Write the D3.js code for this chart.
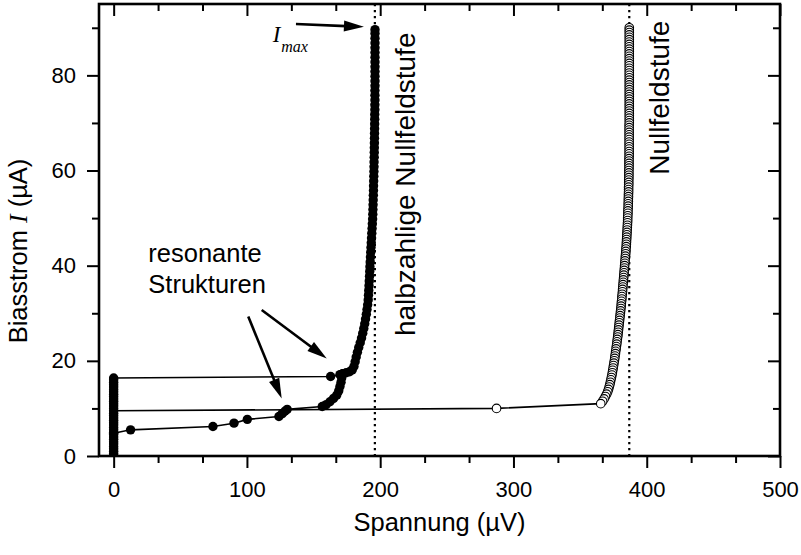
<!DOCTYPE html>
<html>
<head>
<meta charset="utf-8">
<script src="https://cdn.jsdelivr.net/npm/d3@7/dist/d3.min.js"></script>
<style>
  html, body { margin: 0; padding: 0; background: #fff; }
  svg { display: block; }
  text { font-family: "Liberation Sans", Arial, Helvetica, sans-serif; fill: #000; }
</style>
</head>
<body>
<svg id="chart" width="801" height="555"></svg>
<script>
// ---- measured I-V data: [voltage in µV, current in µA] ----

// supercurrent at V = 0, jump, then the half-integer zero-field step
const sweepUp = [
  [0,0],[0,0.5],[0,1],[0,1.5],[0,2],[0,2.5],[0,3],[0,3.5],[0,4],[0,4.5],[0,5],[0,5.5],
  [0,6],[0,6.5],[0,7],[0,7.5],[0,8],[0,8.5],[0,9],[0,9.5],[0,10],[0,10.5],[0,11],[0,11.5],
  [0,12],[0,12.5],[0,13],[0,13.5],[0,14],[0,14.5],[0,15],[0,15.5],[0,16],[0,16.4],
  [162.8,16.7],[169.8,17.1],[172.0,17.3],[174.5,17.5],[177.0,17.7],[179.0,18.1],[180.3,18.8],
  [181.2,19.8],[182.0,20.8],[182.9,21.8],[183.9,22.8],[185.0,23.8],[186.0,24.8],[186.9,25.8],
  [187.7,26.8],[188.4,27.8],[189.0,28.8],[189.6,29.8],[190.1,30.8],[190.6,31.8],[191.0,32.8],
  [191.2,33.8],[191.4,34.8],[191.6,35.8],[191.8,36.8],[192.0,37.8],[192.15,38.8],[192.3,39.8],
  [192.5,40.8],[192.7,41.8],[192.9,42.8],[193.1,43.8],[193.3,44.8],[193.5,45.8],[193.7,46.8],
  [193.9,47.8],[194.1,48.8],[194.3,49.8],[194.45,50.8],[194.55,51.8],[194.65,52.8],[194.75,53.8],
  [194.85,54.8],[194.95,55.8],[195.0,56.8],[195.1,57.8],[195.2,58.8],[195.3,59.8],[195.35,60.8],
  [195.4,61.8],[195.5,62.8],[195.55,63.8],[195.6,64.8],[195.65,65.8],[195.7,66.8],[195.75,67.8],
  [195.8,68.8],[195.85,69.8],[195.9,70.8],[195.9,71.8],[196.0,72.8],[196.0,73.8],[196.05,74.8],
  [196.05,75.8],[196.05,76.8],[196.1,77.8],[196.1,78.8],[196.1,79.8],[196.1,80.8],[196.1,81.8],
  [196.1,82.8],[196.1,83.8],[196.1,84.8],[196.1,85.8],[196.1,86.8],[196.1,87.8],[196.1,88.8],
  [196.1,89.6]
];

// branch through the resonant structures
const resonanceBranch = [
  [0,4.8],[12.7,5.5],[74.5,6.2],[90.3,6.9],[100.3,7.7],[124.0,8.3],[126.5,8.9],[128.5,9.4],
  [130.2,9.8],[156.5,10.4],[159.5,10.8],[162.3,11.4],[165.0,12.1],[167.4,12.8],[168.9,13.7],
  [169.8,14.6],[170.6,15.5],[171.1,16.4],[172.0,17.3]
];

// branch leading to the integer zero-field step (open symbols)
const returnBranch = [
  [0,9.5],[287.3,10.0],[365.5,11.0],
  [366.9,11.5],[368.0,12.0],[369.0,12.5],[369.9,13.0],[370.7,13.5],[371.3,14.0],[371.8,14.5],
  [372.3,15.0],[372.7,15.5],[373.1,16.0],[373.5,16.5],[373.9,17.0],[374.2,17.5],[374.5,18.0],
  [374.8,18.5],[375.1,19.0],[375.4,19.5],[375.7,20.0],[376.0,20.5],[376.2,21.0],[376.5,21.5],
  [376.7,22.0],[377.0,22.5],[377.2,23.0],[377.5,23.5],[377.7,24.0],[377.9,24.5],[378.2,25.0],
  [378.4,25.5],[378.6,26.0],[378.8,26.5],[379.0,27.0],[379.2,27.5],[379.4,28.0],[379.6,28.5],
  [379.8,29.0],[380.0,29.5],[380.2,30.0],[380.4,30.5],[380.6,31.0],[380.8,31.5],[380.9,32.0],
  [381.1,32.5],[381.3,33.0],[381.4,33.5],[381.6,34.0],[381.8,34.5],[381.9,35.0],[382.1,35.5],
  [382.2,36.0],[382.4,36.5],[382.5,37.0],[382.7,37.5],[382.8,38.0],[383.0,38.5],[383.1,39.0],
  [383.3,39.5],[383.4,40.0],[383.6,40.5],[383.7,41.0],[383.9,41.5],[384.0,42.0],[384.2,42.5],
  [384.3,43.0],[384.4,43.5],[384.6,44.0],[384.7,44.5],[384.8,45.0],[384.9,45.5],[385.0,46.0],
  [385.1,46.5],[385.2,47.0],[385.3,47.5],[385.4,48.0],[385.5,48.5],[385.6,49.0],[385.7,49.5],
  [385.7,50.0],[385.8,50.5],[385.9,51.0],[385.9,51.5],[386.0,52.0],[386.1,52.5],[386.1,53.0],
  [386.2,53.5],[386.2,54.0],[386.3,54.5],[386.3,55.0],[386.4,55.5],[386.4,56.0],[386.4,56.5],
  [386.5,57.0],[386.5,57.5],[386.5,58.0],[386.6,58.5],[386.6,59.0],[386.6,59.5],[386.6,60.0],
  [386.7,60.5],[386.7,61.0],[386.7,61.5],[386.7,62.0],[386.7,62.5],[386.8,63.0],[386.8,63.5],
  [386.8,64.0],[386.8,64.5],[386.8,65.0],[386.8,65.5],[386.8,66.0],[386.8,66.5],[386.8,67.0],
  [386.8,67.5],[386.8,68.0],[386.8,68.5],[386.8,69.0],[386.8,69.5],[386.9,70.0],[386.9,70.5],
  [386.9,71.0],[386.9,71.5],[386.9,72.0],[386.9,72.5],[386.9,73.0],[386.9,73.5],[386.9,74.0],
  [386.9,74.5],[386.9,75.0],[386.9,75.5],[386.9,76.0],[386.9,76.5],[386.9,77.0],[386.9,77.5],
  [386.9,78.0],[386.9,78.5],[386.9,79.0],[386.9,79.5],[386.9,80.0],[386.9,80.5],[386.9,81.0],
  [386.9,81.5],[386.9,82.0],[386.9,82.5],[386.9,83.0],[386.9,83.5],[386.9,84.0],[386.9,84.5],
  [386.9,85.0],[386.9,85.5],[386.9,86.0],[386.9,86.5],[386.9,87.0],[386.9,87.5],[386.9,88.0],
  [386.9,88.5],[386.9,89.0],[386.9,89.5],[386.9,90.0]
];

// step voltages marked by dotted lines
const stepVoltages = [196.0, 386.9];

// axis ticks
const xMajorTicks = [0, 100, 200, 300, 400, 500];
const xTickLabels = ["0", "100", "200", "300", "400", "500"];
const xMinorTicks = [33.33, 66.67, 133.33, 166.67, 233.33, 266.67, 333.33, 366.67, 433.33, 466.67];
const yMajorTicks = [0, 20, 40, 60, 80];
const yTickLabels = ["0", "20", "40", "60", "80"];
const yMinorTicks = [10, 30, 50, 70, 90];

// ---- layout ----
const svg = d3.select("#chart");
const plot = { left: 99, right: 780, top: 4, bottom: 456 };
const x = d3.scaleLinear().domain([-11, 500]).range([plot.left, plot.right]);
const y = d3.scaleLinear().domain([0, 95]).range([plot.bottom, plot.top]);

svg.append("defs").append("clipPath").attr("id", "plotClip")
  .append("rect")
  .attr("x", plot.left).attr("y", plot.top)
  .attr("width", plot.right - plot.left).attr("height", plot.bottom - plot.top);

const data = svg.append("g").attr("clip-path", "url(#plotClip)");

// dotted guide lines at the step voltages
data.selectAll("line.step").data(stepVoltages).enter().append("line")
  .attr("class", "step")
  .attr("x1", d => x(d)).attr("x2", d => x(d))
  .attr("y1", plot.top).attr("y2", plot.bottom)
  .attr("stroke", "#000").attr("stroke-width", 2.2)
  .attr("stroke-dasharray", "2.2,3.8");

// connecting lines
const line = d3.line().x(d => x(d[0])).y(d => y(d[1]));
[returnBranch, resonanceBranch, sweepUp].forEach(series => {
  data.append("path").datum(series)
    .attr("d", line)
    .attr("fill", "none").attr("stroke", "#000").attr("stroke-width", 1.6);
});

// filled symbols
[sweepUp, resonanceBranch].forEach(series => {
  data.append("g").selectAll("circle").data(series).enter().append("circle")
    .attr("cx", d => x(d[0])).attr("cy", d => y(d[1]))
    .attr("r", 4.7).attr("fill", "#000");
});

// open symbols, drawn from the top of the step downwards
data.append("g").selectAll("circle").data(returnBranch.slice(1).reverse()).enter().append("circle")
  .attr("cx", d => x(d[0])).attr("cy", d => y(d[1]))
  .attr("r", 4.3).attr("fill", "#fff").attr("stroke", "#000").attr("stroke-width", 1.1);

// ---- axes ----
function styleAxis(g) {
  g.select(".domain").remove();
  g.selectAll("line").attr("stroke", "#000").attr("stroke-width", 2);
  g.selectAll("text").style("font-size", "22px").attr("fill", "#000")
    .style("font-family", '"Liberation Sans", Arial, sans-serif');
}

svg.append("g").attr("transform", `translate(0,${plot.bottom})`)
  .call(d3.axisBottom(x).tickValues(xMajorTicks).tickSize(12).tickPadding(13)
    .tickFormat((d, i) => xTickLabels[i]))
  .call(styleAxis);
svg.append("g").attr("transform", `translate(0,${plot.bottom})`)
  .call(d3.axisBottom(x).tickValues(xMinorTicks).tickSize(7).tickFormat(""))
  .call(styleAxis);
svg.append("g").attr("transform", `translate(0,${plot.top})`)
  .call(d3.axisTop(x).tickValues(xMajorTicks).tickSize(-12).tickFormat(""))
  .call(styleAxis);
svg.append("g").attr("transform", `translate(0,${plot.top})`)
  .call(d3.axisTop(x).tickValues(xMinorTicks).tickSize(-7).tickFormat(""))
  .call(styleAxis);

svg.append("g").attr("transform", `translate(${plot.left},0)`)
  .call(d3.axisLeft(y).tickValues(yMajorTicks).tickSize(12).tickPadding(11)
    .tickFormat((d, i) => yTickLabels[i]))
  .call(styleAxis);
svg.append("g").attr("transform", `translate(${plot.left},0)`)
  .call(d3.axisLeft(y).tickValues(yMinorTicks).tickSize(7).tickFormat(""))
  .call(styleAxis);
svg.append("g").attr("transform", `translate(${plot.right},0)`)
  .call(d3.axisRight(y).tickValues(yMajorTicks).tickSize(-12).tickFormat(""))
  .call(styleAxis);
svg.append("g").attr("transform", `translate(${plot.right},0)`)
  .call(d3.axisRight(y).tickValues(yMinorTicks).tickSize(-7).tickFormat(""))
  .call(styleAxis);

// frame
svg.append("rect")
  .attr("x", plot.left).attr("y", plot.top)
  .attr("width", plot.right - plot.left).attr("height", plot.bottom - plot.top)
  .attr("fill", "none").attr("stroke", "#000").attr("stroke-width", 2.6);

// axis titles
svg.append("text")
  .attr("x", (plot.left + plot.right) / 2).attr("y", 531)
  .attr("text-anchor", "middle").style("font-size", "25.5px")
  .text("Spannung (\u00B5V)");

const yTitle = svg.append("text")
  .attr("transform", "translate(27,251) rotate(-90)")
  .attr("text-anchor", "middle").style("font-size", "25.5px");
yTitle.append("tspan").text("Biasstrom ");
yTitle.append("tspan")
  .style("font-family", '"Liberation Serif", "Times New Roman", serif')
  .style("font-style", "italic").text("I");
yTitle.append("tspan").text(" (\u00B5A)");

// ---- annotations (anchored in data units) ----
function arrow(from, to) {
  const x1 = x(from[0]), y1 = y(from[1]), x2 = x(to[0]), y2 = y(to[1]);
  const ang = Math.atan2(y2 - y1, x2 - x1);
  const len = 20, half = 5.5;
  const bx = x2 - len * Math.cos(ang), by = y2 - len * Math.sin(ang);
  svg.append("line")
    .attr("x1", x1).attr("y1", y1).attr("x2", bx + 2 * Math.cos(ang)).attr("y2", by + 2 * Math.sin(ang))
    .attr("stroke", "#000").attr("stroke-width", 2.6);
  const px = -Math.sin(ang), py = Math.cos(ang);
  svg.append("path")
    .attr("d", `M${x2},${y2}L${bx + half * px},${by + half * py}L${bx - half * px},${by - half * py}Z`)
    .attr("fill", "#000");
}

arrow([136.8, 90.8], [187.8, 90.2]);
arrow([111.1, 30.7], [159.9, 20.5]);
arrow([101.0, 29.3], [126.1, 12.1]);

const imax = svg.append("text")
  .attr("x", x(119.3)).attr("y", y(87.0))
  .style("font-family", '"Liberation Serif", "Times New Roman", serif')
  .style("font-style", "italic");
imax.append("tspan").style("font-size", "23px").text("I");
imax.append("tspan").attr("dy", 10).attr("dx", 1).style("font-size", "16px").text("max");

svg.append("text").attr("x", x(26)).attr("y", y(40.8))
  .style("font-size", "25.5px").text("resonante");
svg.append("text").attr("x", x(26)).attr("y", y(34.2))
  .style("font-size", "25.5px").text("Strukturen");

svg.append("text")
  .attr("transform", `translate(${x(226.3)},${y(89.0)}) rotate(-90)`)
  .attr("text-anchor", "end").style("font-size", "28px")
  .text("halbzahlige Nullfeldstufe");
svg.append("text")
  .attr("transform", `translate(${x(416.8)},${y(91.5)}) rotate(-90)`)
  .attr("text-anchor", "end").style("font-size", "28px")
  .text("Nullfeldstufe");
</script>
</body>
</html>
